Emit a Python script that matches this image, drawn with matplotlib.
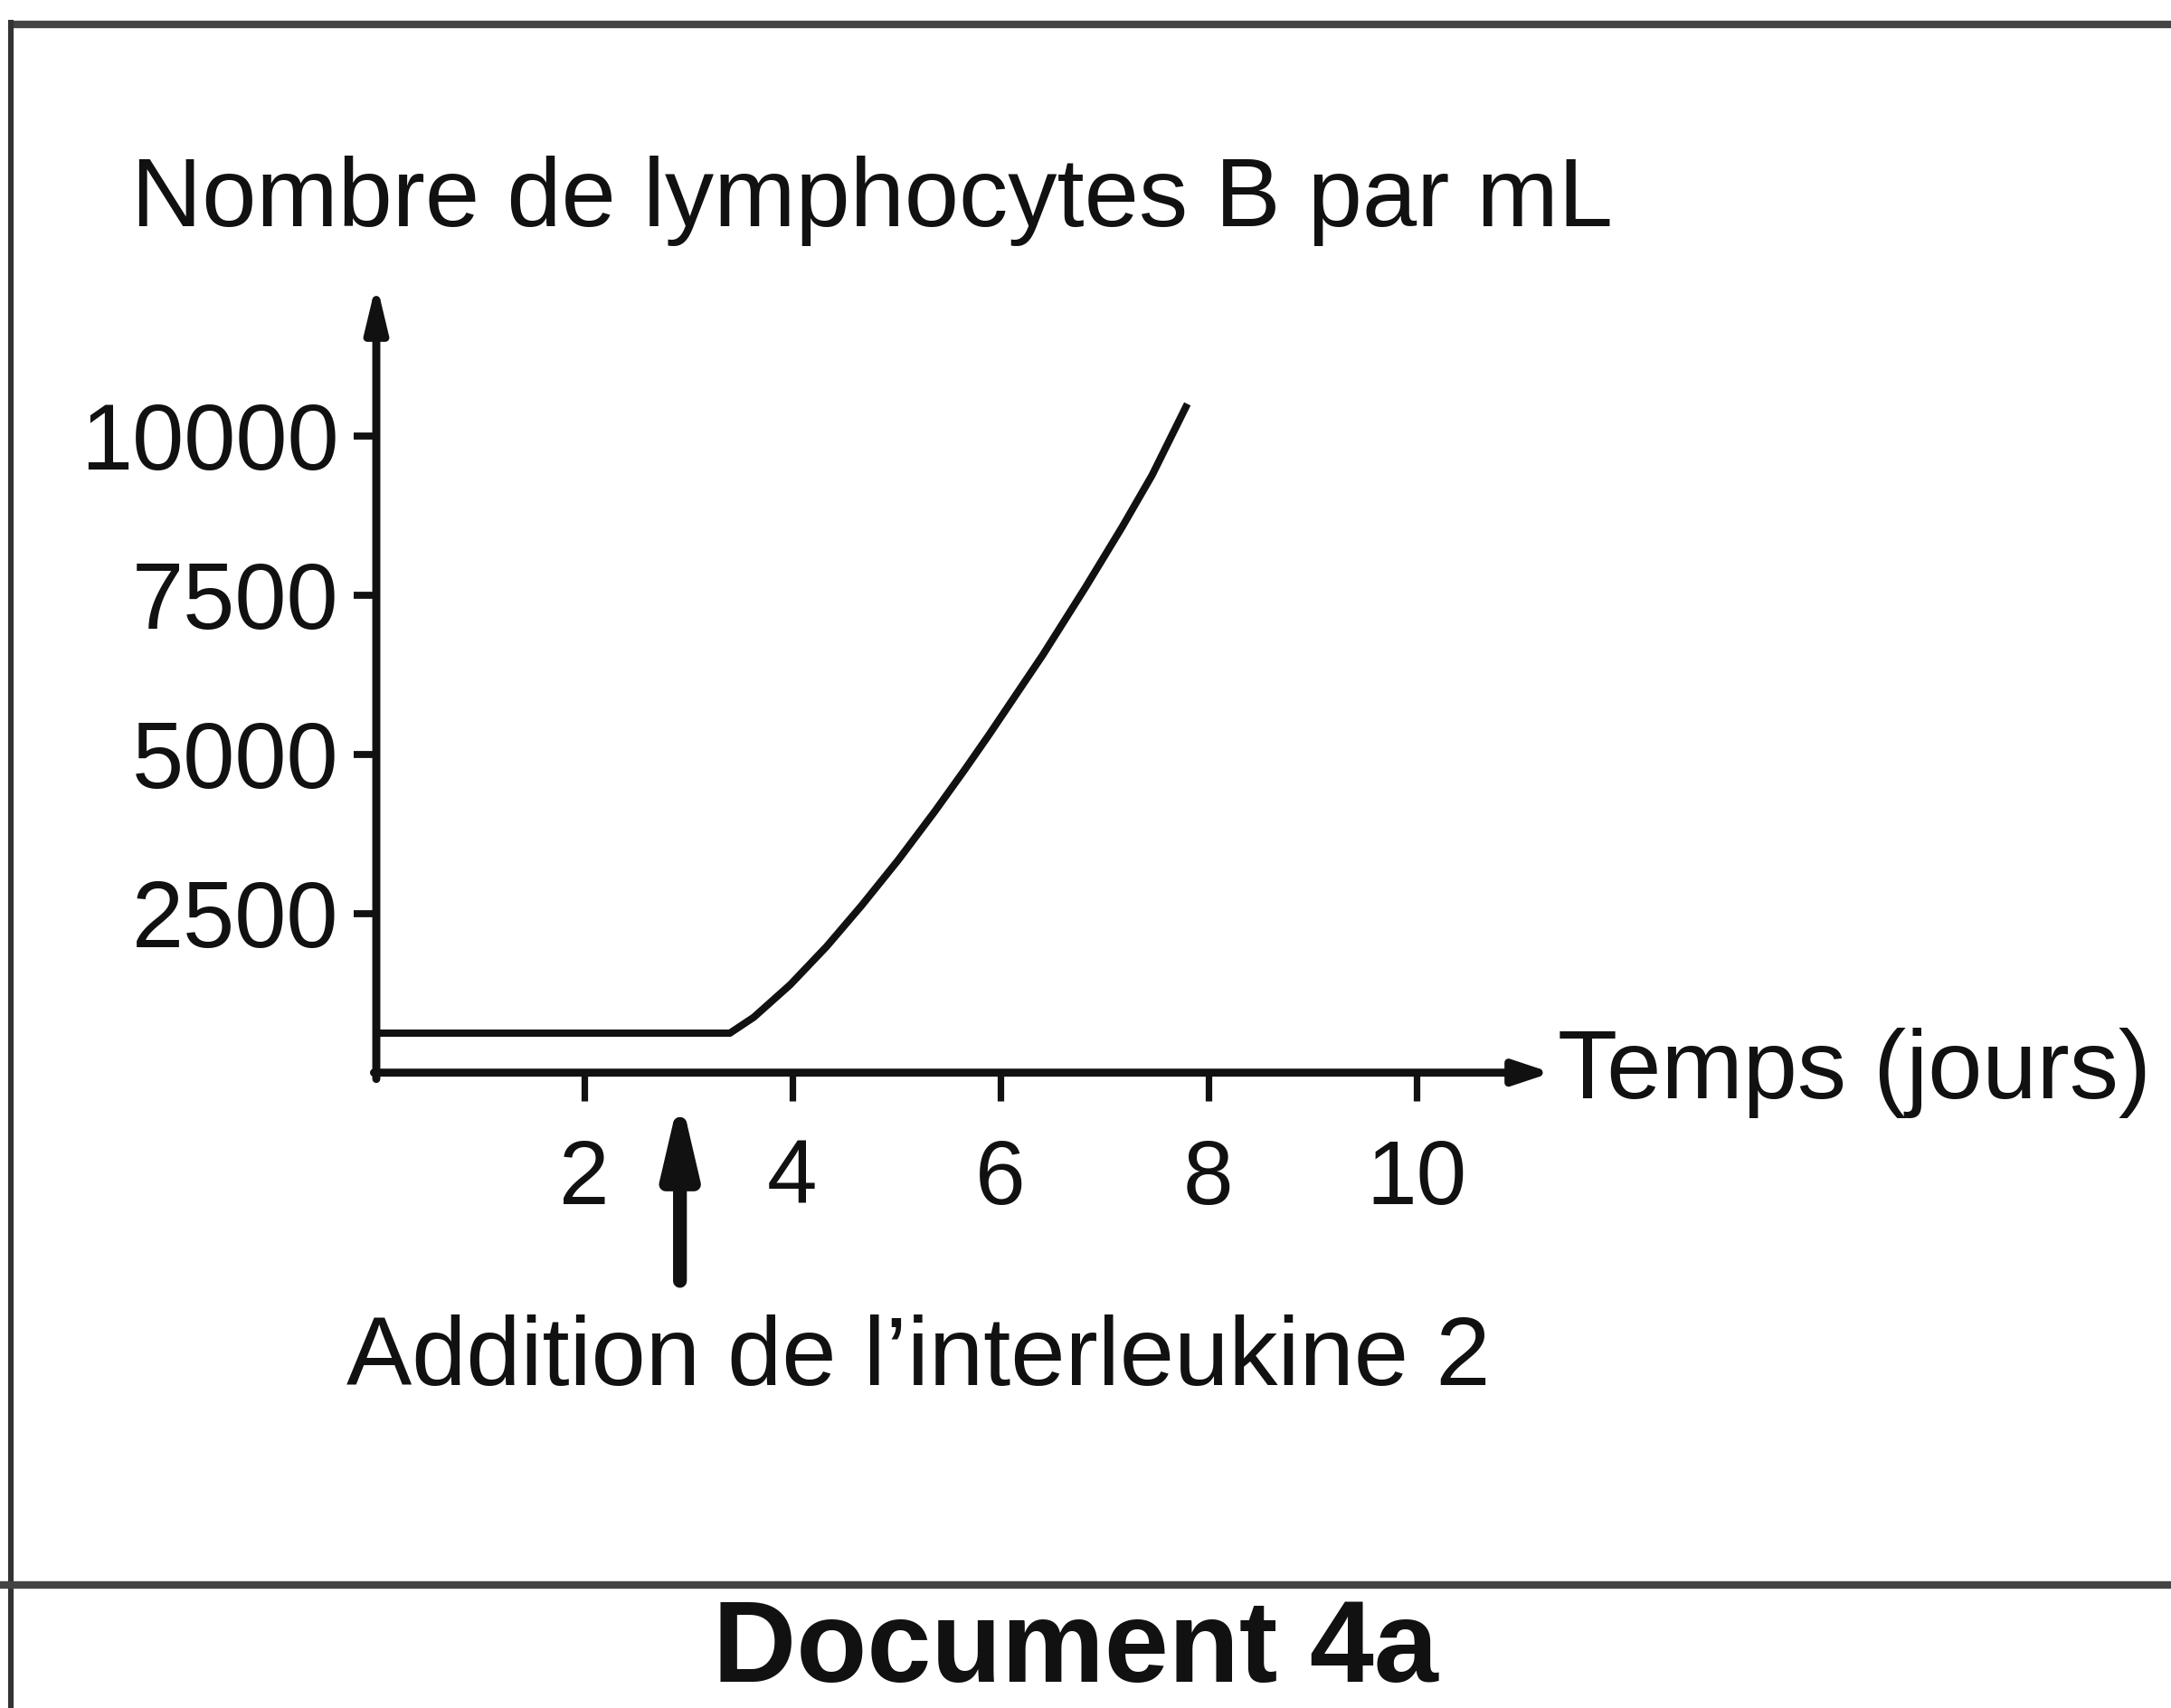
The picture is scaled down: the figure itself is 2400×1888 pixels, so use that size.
import matplotlib
matplotlib.use("Agg")
import matplotlib.pyplot as plt
from matplotlib.lines import Line2D

plt.rcParams['font.family'] = ['Liberation Sans', 'DejaVu Sans']

# Data
days = [0, 3.40, 3.63, 3.98, 4.33, 4.67, 5.02, 5.37, 5.66, 5.89, 6.41, 6.82, 7.17, 7.46, 7.80]
counts = [620, 620, 870, 1380, 1980, 2630, 3340, 4100, 4760, 5300, 6560, 7620, 8560, 9380, 10500]
x_ticks = [2, 4, 6, 8, 10]
y_ticks = [2500, 5000, 7500, 10000]
il2_day = 2.92

ylabel = "Nombre de lymphocytes B par mL"
xlabel = "Temps (jours)"
annot = "Addition de l\u2019interleukine 2"
caption = "Document 4a"

W, H = 2400, 1888
fig = plt.figure(figsize=(12, 9.44), dpi=200)
fig.patch.set_facecolor('white')

ax = fig.add_axes([416 / W, 1 - 1185.7 / H, (1715 - 416) / W, (1185.7 - 312.7) / H])
ax.set_xlim(0, 11.3)
ax.set_ylim(0, 12400)
ax.set_facecolor('none')

ax.plot(days, counts, color='#111111', lw=2.9, solid_joinstyle='round', solid_capstyle='butt')

for s in ['top', 'right', 'left', 'bottom']:
    ax.spines[s].set_visible(False)

# axes drawn as arrows
ax.annotate('', xy=(0, 1), xytext=(0, -0.008), xycoords='axes fraction',
            arrowprops=dict(arrowstyle='-|>,head_length=0.75,head_width=0.18', lw=3.2,
                            color='#111111', shrinkA=0, shrinkB=0, mutation_scale=20))
ax.annotate('', xy=(1, 0), xytext=(-0.002, 0), xycoords='axes fraction',
            arrowprops=dict(arrowstyle='-|>,head_length=0.6,head_width=0.2', lw=3.2,
                            color='#111111', shrinkA=0, shrinkB=0, mutation_scale=20))

ax.set_xticks(x_ticks)
ax.set_xticklabels([str(v) for v in x_ticks])
ax.set_yticks(y_ticks)
ax.set_yticklabels([str(v) for v in y_ticks])
ax.tick_params(axis='x', direction='out', length=11, width=2.6, pad=15,
               labelsize=36, colors='#111111')
ax.tick_params(axis='y', direction='out', length=9, width=2.8, pad=6,
               labelsize=37, colors='#111111')

# IL-2 arrow below the axis
ax.annotate('', xy=(il2_day, -330), xytext=(il2_day, -3270), xycoords='data',
            annotation_clip=False,
            arrowprops=dict(arrowstyle='-|>,head_length=1.2,head_width=0.28', lw=5.5,
                            color='#111111', shrinkA=0, shrinkB=0, mutation_scale=20))

fig.text(145 / W, 1 - 250 / H, ylabel, fontsize=39, color='#111111',
         ha='left', va='baseline')
fig.text(1722 / W, 1 - 1214 / H, xlabel, fontsize=39, color='#111111',
         ha='left', va='baseline')
fig.text(383 / W, 1 - 1531 / H, annot, fontsize=39, color='#111111',
         ha='left', va='baseline')
fig.text(1189 / W, 2 / H, caption, fontsize=46, fontweight='bold',
         color='#111111', ha='center', va='bottom')

# document frame
fig.add_artist(Line2D([14 / W, 1], [1 - 27 / H, 1 - 27 / H], transform=fig.transFigure,
                      color='#444444', lw=3))
fig.add_artist(Line2D([12 / W, 12 / W], [0, 1 - 25 / H], transform=fig.transFigure,
                      color='#333333', lw=2.2))
fig.add_artist(Line2D([0, 1], [1 - 1752 / H, 1 - 1752 / H], transform=fig.transFigure,
                      color='#444444', lw=3))

fig.savefig('out.png', dpi=200, facecolor='white')
